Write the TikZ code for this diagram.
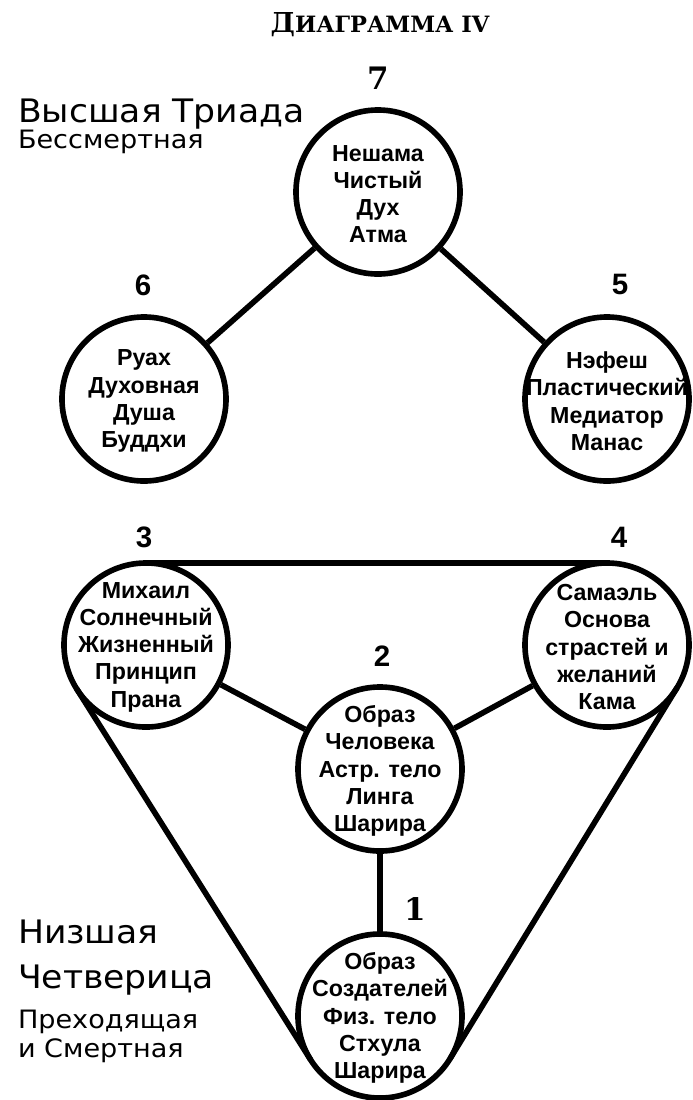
\documentclass[tikz,border=0pt]{standalone}
\usepackage{fontspec}
\setmainfont{Liberation Sans}
\newfontfamily\sidefont{DejaVu Sans}
\newfontfamily\serffont{DejaVu Serif}
\usetikzlibrary{calc}
\tikzset{
  ring/.style={circle, draw, line width=4pt, minimum size=4.1cm, inner sep=0pt},
  ctext/.style={font=\bfseries\fontsize{16.5}{19.4}\selectfont, inner sep=0pt, align=center, yshift=-1.5pt},
  numsans/.style={font=\bfseries\fontsize{21}{21}\selectfont},
  numserif/.style={font=\serffont\bfseries\fontsize{22}{22}\selectfont},
  bigside/.style={font=\sidefont\fontsize{23}{23}\selectfont, anchor=base west, inner sep=0pt, xscale=1.07},
  smallside/.style={font=\sidefont\fontsize{18}{18}\selectfont, anchor=base west, inner sep=0pt, xscale=1.07}
}
\newcommand{\rr}{2.05cm}

\begin{document}
\begin{tikzpicture}[x=0.025cm, y=-0.025cm, line width=4pt]
    \useasboundingbox (0,0) rectangle (692,1100);

    \node[font=\serffont\bfseries, anchor=base] (title) at (380,32)
        {{\fontsize{19.5}{19.5}\selectfont Д}{\fontsize{16}{16}\selectfont ИАГРАММА IV}};

    \node[bigside] (upper1) at (15,122) {Высшая Триада};
    \node[smallside] (upper2) at (15,148) {Бессмертная};
    \node[bigside] (lower1) at (15,943) {Низшая};
    \node[bigside] (lower2) at (15,988) {Четверица};
    \node[smallside] (lower3) at (15,1028) {Преходящая};
    \node[smallside] (lower4) at (15,1057) {и Смертная};

    \node[ring] (c7) at (378,192) {};
    \node[ring] (c6) at (144,399) {};
    \node[ring] (c5) at (607,399) {};
    \node[ring] (c3) at (146,645) {};
    \node[ring] (c4) at (607,645) {};
    \node[ring] (c2) at (380,769) {};
    \node[ring] (c1) at (380,1016) {};

    \node[ctext] (t7) at (c7) {Нешама\\Чистый\\Дух\\Атма};
    \node[ctext] (t6) at (c6) {Руах\\Духовная\\Душа\\Буддхи};
    \node[ctext] (t5) at (c5) {Нэфеш\\Пластический\\Медиатор\\Манас};
    \node[ctext] (t3) at (c3) {Михаил\\Солнечный\\Жизненный\\Принцип\\Прана};
    \node[ctext] (t4) at (c4) {Самаэль\\Основа\\страстей и\\желаний\\Кама};
    \node[ctext] (t2) at (c2) {Образ\\Человека\\Астр. тело\\Линга\\Шарира};
    \node[ctext] (t1) at (c1) {Образ\\Создателей\\Физ. тело\\Стхула\\Шарира};

    \node[numserif] (n7) at (378,78) {7};
    \node[numsans] (n6) at (143,285) {6};
    \node[numsans] (n5) at (620,284) {5};
    \node[numsans] (n3) at (144,537) {3};
    \node[numsans] (n4) at (619,537) {4};
    \node[numsans] (n2) at (382,656) {2};
    \node[numserif] (n1) at (415,909) {1};

    \draw (c7) -- (c6);
    \draw (c7) -- (c5);
    \draw (c3) -- (c2);
    \draw (c2) -- (c4);
    \draw (c2) -- (c1);

    \draw ($(c3.center)!\rr!90:(c4.center)$) -- ($(c4.center)!\rr!-90:(c3.center)$);
    \draw ($(c3.center)!\rr!-90:(c1.center)$) -- ($(c1.center)!\rr!90:(c3.center)$);
    \draw ($(c4.center)!\rr!90:(c1.center)$) -- ($(c1.center)!\rr!-90:(c4.center)$);
\end{tikzpicture}
\end{document}
